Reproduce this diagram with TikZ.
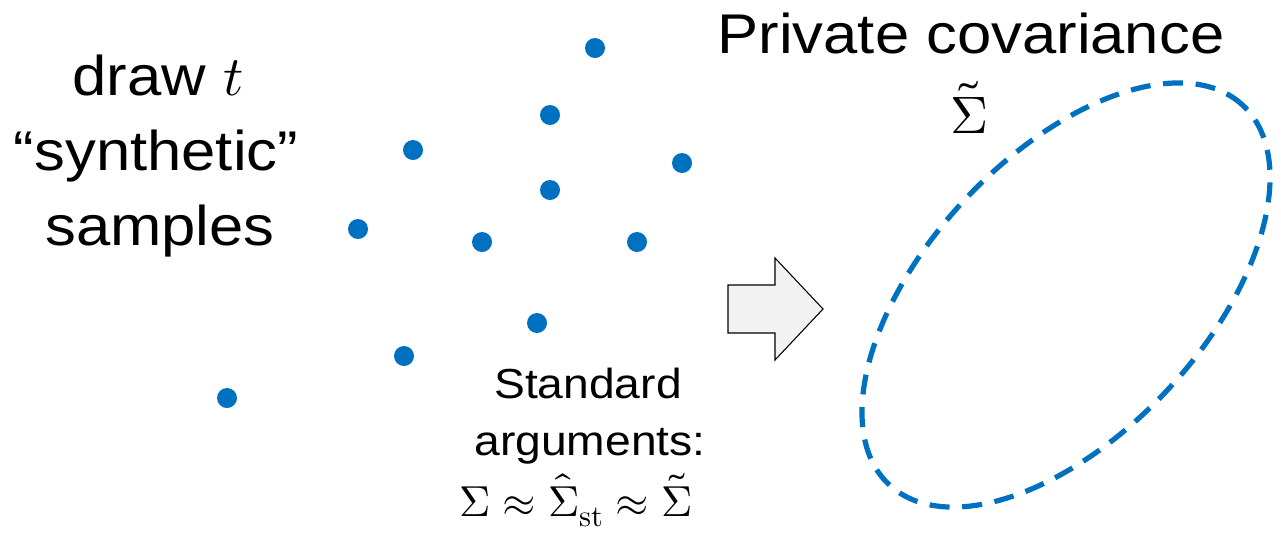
\documentclass[tikz,border=0pt]{standalone}
\usepackage{fontspec}
\usepackage{unicode-math}
\setmainfont{Liberation Sans}[FakeStretch=1.1]
\setmathfont{Latin Modern Math}
\usetikzlibrary{shapes.geometric}
\definecolor{dotblue}{HTML}{0070C0}
\definecolor{arrowfill}{HTML}{F2F2F2}
\begin{document}
\begin{tikzpicture}[x=0.75pt,y=-0.75pt,
  sample/.style={circle,fill=dotblue,inner sep=0pt,minimum size=15pt},
  bigtext/.style={font=\fontsize{42}{56}\selectfont,inner sep=0pt,anchor=base},
  smalltext/.style={font=\fontsize{31.5}{42}\selectfont,inner sep=0pt,anchor=base},
  blockarrow/.style={draw=black,fill=arrowfill,line width=0.8pt,line join=miter},
  covline/.style={draw=dotblue,line width=3.9pt,dash pattern=on 15pt off 9.5pt}]
\useasboundingbox (0,0) rectangle (1281,533);
% left text
\node[bigtext] (l1) at (158,95) {draw $t$};
\node[bigtext] (l2) at (156,170) {“synthetic”};
\node[bigtext] (l3) at (160,245) {samples};
% samples
\foreach \n/\x/\y in {s1/595/48, s2/550/115, s3/413/150, s4/682/163, s5/550/190,
  s6/358/229, s7/482/242, s8/637/242, s9/537/323, s10/404/356, s11/227/398}
  \node[sample] (\n) at (\x,\y) {};
% bottom text
\node[smalltext] (b1) at (588,398) {Standard};
\node[smalltext] (b2) at (590,455) {arguments:};
\node[inner sep=0pt,anchor=base,font=\fontsize{32.5}{40}\selectfont] (b3) at (576,516)
  {$\Sigma\approx\hat{\Sigma}_{\symup{st}}\approx\tilde{\Sigma}$};
% block arrow
\draw[blockarrow] (728,285) -- (775,285) -- (775,258) -- (823,309)
  -- (775,360) -- (775,333) -- (728,333) -- cycle;
% right side
\node[bigtext] (t1) at (971,53) {Private covariance};
\node[inner sep=0pt,anchor=base,font=\fontsize{39.5}{48}\selectfont] (t2) at (969,133) {$\tilde{\Sigma}$};
\node[covline,ellipse,minimum width=389pt,minimum height=208.5pt,rotate=47,inner sep=0pt] (cov) at (1066,295) {};
\end{tikzpicture}
\end{document}
